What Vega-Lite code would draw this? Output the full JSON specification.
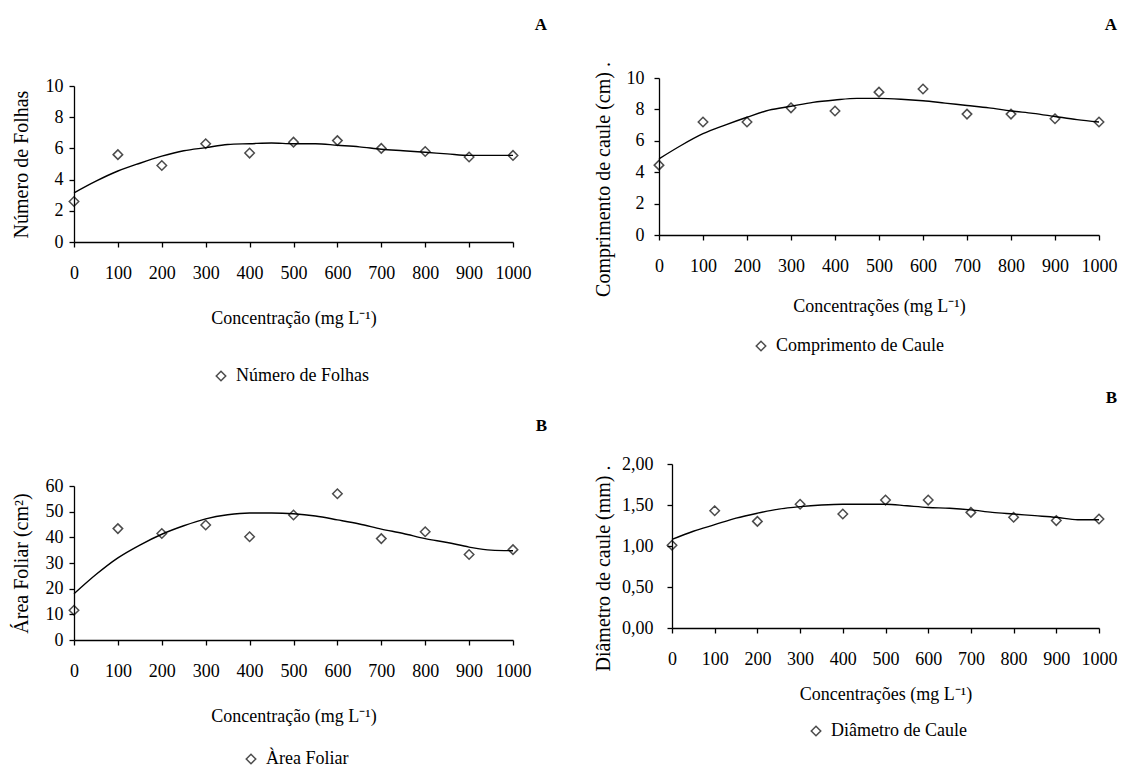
{
  "$schema": "https://vega.github.io/schema/vega-lite/v6.json",
  "background": "white",
  "padding": {"left": 11, "top": 15, "right": 5, "bottom": 5},
  "datasets": {
    "obs_folhas": [
      {"conc": 0, "valor": 2.6, "serie": "Número de Folhas"},
      {"conc": 100, "valor": 5.6, "serie": "Número de Folhas"},
      {"conc": 200, "valor": 4.9, "serie": "Número de Folhas"},
      {"conc": 300, "valor": 6.3, "serie": "Número de Folhas"},
      {"conc": 400, "valor": 5.7, "serie": "Número de Folhas"},
      {"conc": 500, "valor": 6.4, "serie": "Número de Folhas"},
      {"conc": 600, "valor": 6.5, "serie": "Número de Folhas"},
      {"conc": 700, "valor": 6.0, "serie": "Número de Folhas"},
      {"conc": 800, "valor": 5.8, "serie": "Número de Folhas"},
      {"conc": 900, "valor": 5.45, "serie": "Número de Folhas"},
      {"conc": 1000, "valor": 5.55, "serie": "Número de Folhas"}
    ],
    "curva_folhas": [
      {"conc": 0, "valor": 3.15}, {"conc": 50, "valor": 3.9}, {"conc": 100, "valor": 4.55},
      {"conc": 150, "valor": 5.05}, {"conc": 200, "valor": 5.5}, {"conc": 250, "valor": 5.85},
      {"conc": 300, "valor": 6.05}, {"conc": 350, "valor": 6.25}, {"conc": 400, "valor": 6.3},
      {"conc": 450, "valor": 6.35}, {"conc": 500, "valor": 6.3}, {"conc": 550, "valor": 6.3},
      {"conc": 600, "valor": 6.2}, {"conc": 650, "valor": 6.1}, {"conc": 700, "valor": 5.95},
      {"conc": 750, "valor": 5.85}, {"conc": 800, "valor": 5.75}, {"conc": 850, "valor": 5.65},
      {"conc": 900, "valor": 5.55}, {"conc": 950, "valor": 5.55}, {"conc": 1000, "valor": 5.55}
    ],
    "obs_comprimento": [
      {"conc": 0, "valor": 4.45, "serie": "Comprimento de Caule"},
      {"conc": 100, "valor": 7.2, "serie": "Comprimento de Caule"},
      {"conc": 200, "valor": 7.2, "serie": "Comprimento de Caule"},
      {"conc": 300, "valor": 8.1, "serie": "Comprimento de Caule"},
      {"conc": 400, "valor": 7.9, "serie": "Comprimento de Caule"},
      {"conc": 500, "valor": 9.1, "serie": "Comprimento de Caule"},
      {"conc": 600, "valor": 9.3, "serie": "Comprimento de Caule"},
      {"conc": 700, "valor": 7.7, "serie": "Comprimento de Caule"},
      {"conc": 800, "valor": 7.7, "serie": "Comprimento de Caule"},
      {"conc": 900, "valor": 7.4, "serie": "Comprimento de Caule"},
      {"conc": 1000, "valor": 7.2, "serie": "Comprimento de Caule"}
    ],
    "curva_comprimento": [
      {"conc": 0, "valor": 4.85}, {"conc": 50, "valor": 5.7}, {"conc": 100, "valor": 6.45},
      {"conc": 150, "valor": 7.0}, {"conc": 200, "valor": 7.5}, {"conc": 250, "valor": 7.95},
      {"conc": 300, "valor": 8.2}, {"conc": 350, "valor": 8.45}, {"conc": 400, "valor": 8.6},
      {"conc": 450, "valor": 8.7}, {"conc": 500, "valor": 8.7}, {"conc": 550, "valor": 8.65},
      {"conc": 600, "valor": 8.55}, {"conc": 650, "valor": 8.4}, {"conc": 700, "valor": 8.25},
      {"conc": 750, "valor": 8.1}, {"conc": 800, "valor": 7.9}, {"conc": 850, "valor": 7.75},
      {"conc": 900, "valor": 7.55}, {"conc": 950, "valor": 7.35}, {"conc": 1000, "valor": 7.2}
    ],
    "obs_area": [
      {"conc": 0, "valor": 11.6, "serie": "Àrea Foliar"},
      {"conc": 100, "valor": 43.4, "serie": "Àrea Foliar"},
      {"conc": 200, "valor": 41.5, "serie": "Àrea Foliar"},
      {"conc": 300, "valor": 44.8, "serie": "Àrea Foliar"},
      {"conc": 400, "valor": 40.2, "serie": "Àrea Foliar"},
      {"conc": 500, "valor": 48.7, "serie": "Àrea Foliar"},
      {"conc": 600, "valor": 57.0, "serie": "Àrea Foliar"},
      {"conc": 700, "valor": 39.5, "serie": "Àrea Foliar"},
      {"conc": 800, "valor": 42.2, "serie": "Àrea Foliar"},
      {"conc": 900, "valor": 33.3, "serie": "Àrea Foliar"},
      {"conc": 1000, "valor": 35.2, "serie": "Àrea Foliar"}
    ],
    "curva_area": [
      {"conc": 0, "valor": 18.0}, {"conc": 50, "valor": 25.5}, {"conc": 100, "valor": 32.0},
      {"conc": 150, "valor": 37.0}, {"conc": 200, "valor": 41.2}, {"conc": 250, "valor": 44.5},
      {"conc": 300, "valor": 47.2}, {"conc": 350, "valor": 48.8}, {"conc": 400, "valor": 49.5},
      {"conc": 450, "valor": 49.5}, {"conc": 500, "valor": 49.2}, {"conc": 550, "valor": 48.3},
      {"conc": 600, "valor": 46.8}, {"conc": 650, "valor": 45.2}, {"conc": 700, "valor": 43.2},
      {"conc": 750, "valor": 41.5}, {"conc": 800, "valor": 39.5}, {"conc": 850, "valor": 38.0},
      {"conc": 900, "valor": 36.2}, {"conc": 950, "valor": 35.0}, {"conc": 1000, "valor": 34.8}
    ],
    "obs_diametro": [
      {"conc": 0, "valor": 1.01, "serie": "Diâmetro de Caule"},
      {"conc": 100, "valor": 1.43, "serie": "Diâmetro de Caule"},
      {"conc": 200, "valor": 1.30, "serie": "Diâmetro de Caule"},
      {"conc": 300, "valor": 1.51, "serie": "Diâmetro de Caule"},
      {"conc": 400, "valor": 1.39, "serie": "Diâmetro de Caule"},
      {"conc": 500, "valor": 1.56, "serie": "Diâmetro de Caule"},
      {"conc": 600, "valor": 1.56, "serie": "Diâmetro de Caule"},
      {"conc": 700, "valor": 1.41, "serie": "Diâmetro de Caule"},
      {"conc": 800, "valor": 1.35, "serie": "Diâmetro de Caule"},
      {"conc": 900, "valor": 1.31, "serie": "Diâmetro de Caule"},
      {"conc": 1000, "valor": 1.33, "serie": "Diâmetro de Caule"}
    ],
    "curva_diametro": [
      {"conc": 0, "valor": 1.08}, {"conc": 50, "valor": 1.18}, {"conc": 100, "valor": 1.26},
      {"conc": 150, "valor": 1.34}, {"conc": 200, "valor": 1.40}, {"conc": 250, "valor": 1.45},
      {"conc": 300, "valor": 1.48}, {"conc": 350, "valor": 1.50}, {"conc": 400, "valor": 1.51},
      {"conc": 450, "valor": 1.51}, {"conc": 500, "valor": 1.51}, {"conc": 550, "valor": 1.49},
      {"conc": 600, "valor": 1.47}, {"conc": 650, "valor": 1.46}, {"conc": 700, "valor": 1.44},
      {"conc": 750, "valor": 1.41}, {"conc": 800, "valor": 1.39}, {"conc": 850, "valor": 1.37},
      {"conc": 900, "valor": 1.35}, {"conc": 950, "valor": 1.32}, {"conc": 1000, "valor": 1.32}
    ]
  },
  "columns": 2,
  "bounds": "flush",
  "align": "each",
  "spacing": {"row": 222, "column": 146},
  "resolve": {"scale": {"shape": "independent"}, "legend": {"shape": "independent"}},
  "concat": [
    {
      "width": 439, "height": 164,
      "title": {"text": "A", "anchor": "end", "frame": "group", "dx": 34, "offset": 43},
      "encoding": {
        "x": {"field": "conc", "type": "quantitative", "scale": {"domain": [0, 1000]},
              "axis": {"values": [0, 100, 200, 300, 400, 500, 600, 700, 800, 900, 1000], "format": "d", "title": "Concentração (mg L⁻¹)", "titlePadding": 27, "labelOverlap": false}},
        "y": {"field": "valor", "type": "quantitative", "scale": {"domain": [0, 10], "range": [164, 8]},
              "axis": {"values": [0, 2, 4, 6, 8, 10], "format": "d", "title": "Número de Folhas", "labelPadding": 6, "titlePadding": 14, "labelOverlap": false}}
      },
      "layer": [
        {
          "data": {"name": "curva_folhas"},
          "mark": {"type": "line", "color": "black", "strokeWidth": 1.4, "interpolate": "monotone"}
        },
        {
          "data": {"name": "obs_folhas"},
          "mark": {"type": "point", "filled": false, "color": "black", "strokeWidth": 1.5, "size": 90},
          "encoding": {
            "shape": {"field": "serie", "type": "nominal", "scale": {"range": ["diamond"]},
                      "legend": {"title": null, "orient": "none", "legendX": 138, "legendY": 289}}
          }
        }
      ]
    },
    {
      "width": 440, "height": 157,
      "title": {"text": "A", "anchor": "end", "frame": "group", "dx": 18, "offset": 28},
      "encoding": {
        "x": {"field": "conc", "type": "quantitative", "scale": {"domain": [0, 1000]},
              "axis": {"values": [0, 100, 200, 300, 400, 500, 600, 700, 800, 900, 1000], "format": "d", "title": "Concentrações (mg L⁻¹)", "titlePadding": 22, "labelOverlap": false}},
        "y": {"field": "valor", "type": "quantitative", "scale": {"domain": [0, 10]},
              "axis": {"values": [0, 2, 4, 6, 8, 10], "format": "d", "title": "Comprimento de caule (cm) .", "labelPadding": 10, "titlePadding": 13, "titleY": 101, "labelOverlap": false}}
      },
      "layer": [
        {
          "data": {"name": "curva_comprimento"},
          "mark": {"type": "line", "color": "black", "strokeWidth": 1.4, "interpolate": "monotone"}
        },
        {
          "data": {"name": "obs_comprimento"},
          "mark": {"type": "point", "filled": false, "color": "black", "strokeWidth": 1.5, "size": 90},
          "encoding": {
            "shape": {"field": "serie", "type": "nominal", "scale": {"range": ["diamond"]},
                      "legend": {"title": null, "orient": "none", "legendX": 93, "legendY": 259}}
          }
        }
      ]
    },
    {
      "width": 439, "height": 176,
      "title": {"text": "B", "anchor": "end", "frame": "group", "dx": 34, "offset": 29},
      "encoding": {
        "x": {"field": "conc", "type": "quantitative", "scale": {"domain": [0, 1000]},
              "axis": {"values": [0, 100, 200, 300, 400, 500, 600, 700, 800, 900, 1000], "format": "d", "title": "Concentração (mg L⁻¹)", "titlePadding": 27, "labelOverlap": false}},
        "y": {"field": "valor", "type": "quantitative", "scale": {"domain": [0, 60], "range": [176, 22]},
              "axis": {"values": [0, 10, 20, 30, 40, 50, 60], "format": "d", "title": "Área Foliar (cm²)", "labelPadding": 6, "titlePadding": 14, "labelOverlap": false}}
      },
      "layer": [
        {
          "data": {"name": "curva_area"},
          "mark": {"type": "line", "color": "black", "strokeWidth": 1.4, "interpolate": "monotone"}
        },
        {
          "data": {"name": "obs_area"},
          "mark": {"type": "point", "filled": false, "color": "black", "strokeWidth": 1.5, "size": 90},
          "encoding": {
            "shape": {"field": "serie", "type": "nominal", "scale": {"range": ["diamond"]},
                      "legend": {"title": null, "orient": "none", "legendX": 168, "legendY": 286}}
          }
        }
      ]
    },
    {
      "width": 440, "height": 164,
      "title": {"text": "B", "anchor": "end", "frame": "group", "dx": 18, "offset": 48},
      "encoding": {
        "x": {"field": "conc", "type": "quantitative", "scale": {"domain": [0, 1000], "range": [13, 440]},
              "axis": {"values": [0, 100, 200, 300, 400, 500, 600, 700, 800, 900, 1000], "format": "d", "title": "Concentrações (mg L⁻¹)", "titlePadding": 17, "labelOverlap": false}},
        "y": {"field": "valor", "type": "quantitative", "scale": {"domain": [0, 2]},
              "axis": {"values": [0, 0.5, 1, 1.5, 2], "labelExpr": "replace(format(datum.value, '.2f'), '.', ',')", "title": "Diâmetro de caule (mm) .", "labelPadding": 14, "titlePadding": 8.5, "titleY": 104, "offset": -13, "labelOverlap": false}}
      },
      "layer": [
        {
          "data": {"name": "curva_diametro"},
          "mark": {"type": "line", "color": "black", "strokeWidth": 1.4, "interpolate": "monotone"}
        },
        {
          "data": {"name": "obs_diametro"},
          "mark": {"type": "point", "filled": false, "color": "black", "strokeWidth": 1.5, "size": 90},
          "encoding": {
            "shape": {"field": "serie", "type": "nominal", "scale": {"range": ["diamond"]},
                      "legend": {"title": null, "orient": "none", "legendX": 148, "legendY": 258}}
          }
        }
      ]
    }
  ],
  "config": {
    "font": "Liberation Serif",
    "view": {"stroke": null},
    "axis": {
      "domainColor": "black", "domainWidth": 1.3,
      "tickColor": "black", "tickWidth": 1.3, "tickSize": 5,
      "labelColor": "black", "labelFont": "Liberation Serif", "labelFontSize": 18,
      "titleColor": "black", "titleFont": "Liberation Serif", "titleFontSize": 18, "titleFontWeight": "normal",
      "grid": false, "labelFlush": false, "labelOverlap": false
    },
    "axisX": {"labelPadding": 17, "labelAngle": 0},
    "axisY": {"titleFontSize": 20},
    "legend": {
      "labelFont": "Liberation Serif", "labelFontSize": 18, "labelColor": "black", "labelLimit": 400,
      "symbolStrokeWidth": 1.5, "symbolSize": 90, "labelOffset": 6
    },
    "title": {"font": "Liberation Serif", "fontSize": 17, "fontWeight": "bold", "color": "black"}
  }
}
